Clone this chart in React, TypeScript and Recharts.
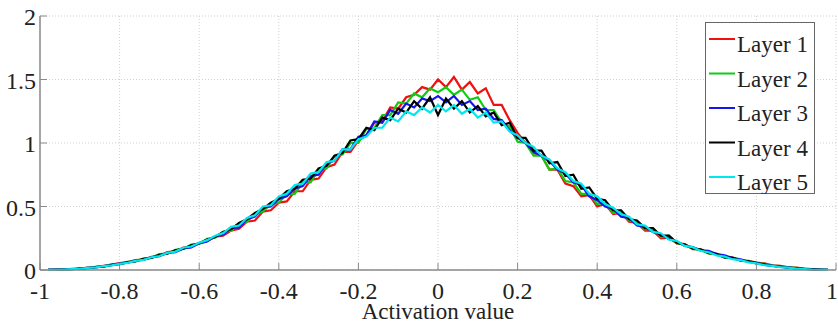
import React from 'react';
import { LineChart, Line, XAxis, YAxis, CartesianGrid, Legend } from 'recharts';

// histogram bin centres
const xs = [
  -0.98, -0.96, -0.94, -0.92, -0.9, -0.88, -0.86, -0.84, -0.82, -0.8,
  -0.78, -0.76, -0.74, -0.72, -0.7, -0.68, -0.66, -0.64, -0.62, -0.6,
  -0.58, -0.56, -0.54, -0.52, -0.5, -0.48, -0.46, -0.44, -0.42, -0.4,
  -0.38, -0.36, -0.34, -0.32, -0.3, -0.28, -0.26, -0.24, -0.22, -0.2,
  -0.18, -0.16, -0.14, -0.12, -0.1, -0.08, -0.06, -0.04, -0.02, 0,
  0.02, 0.04, 0.06, 0.08, 0.1, 0.12, 0.14, 0.16, 0.18, 0.2,
  0.22, 0.24, 0.26, 0.28, 0.3, 0.32, 0.34, 0.36, 0.38, 0.4,
  0.42, 0.44, 0.46, 0.48, 0.5, 0.52, 0.54, 0.56, 0.58, 0.6,
  0.62, 0.64, 0.66, 0.68, 0.7, 0.72, 0.74, 0.76, 0.78, 0.8,
  0.82, 0.84, 0.86, 0.88, 0.9, 0.92, 0.94, 0.96, 0.98,
];

const layer1 = [
  0.001, 0.003, 0.004, 0.009, 0.011, 0.019, 0.024, 0.033, 0.043, 0.055,
  0.062, 0.078, 0.082, 0.104, 0.112, 0.142, 0.146, 0.176, 0.182, 0.212,
  0.228, 0.262, 0.27, 0.31, 0.325, 0.38, 0.39, 0.46, 0.47, 0.53,
  0.54, 0.62, 0.62, 0.71, 0.72, 0.81, 0.83, 0.93, 0.93, 1.02,
  1.06, 1.16, 1.17, 1.28, 1.27, 1.36, 1.38, 1.44, 1.42, 1.5,
  1.44, 1.52, 1.42, 1.48, 1.39, 1.43, 1.3, 1.3, 1.18, 1.08,
  1.0, 0.92, 0.9, 0.79, 0.79, 0.68, 0.66, 0.58, 0.59, 0.5,
  0.52, 0.44, 0.45, 0.38, 0.37, 0.31, 0.31, 0.25, 0.255, 0.21,
  0.205, 0.165, 0.165, 0.13, 0.13, 0.1, 0.1, 0.075, 0.072, 0.058,
  0.052, 0.036, 0.032, 0.021, 0.018, 0.011, 0.008, 0.004, 0.002,
];

const layer2 = [
  0.001, 0.002, 0.005, 0.007, 0.013, 0.016, 0.025, 0.029, 0.044, 0.049,
  0.065, 0.07, 0.09, 0.098, 0.125, 0.13, 0.158, 0.165, 0.2, 0.205,
  0.245, 0.255, 0.3, 0.31, 0.36, 0.38, 0.44, 0.46, 0.52, 0.53,
  0.6, 0.6, 0.69, 0.69, 0.79, 0.8, 0.9, 0.91, 1.0, 1.0,
  1.11, 1.12, 1.22, 1.22, 1.32, 1.31, 1.39, 1.36, 1.43, 1.4,
  1.44, 1.38, 1.42, 1.34, 1.36, 1.26, 1.26, 1.16, 1.13, 1.01,
  1.0, 0.9, 0.9, 0.79, 0.8, 0.7, 0.69, 0.6, 0.6, 0.52,
  0.53, 0.45, 0.45, 0.39, 0.38, 0.32, 0.33, 0.26, 0.27, 0.21,
  0.2, 0.165, 0.16, 0.13, 0.125, 0.098, 0.094, 0.074, 0.07, 0.054,
  0.048, 0.035, 0.03, 0.02, 0.017, 0.01, 0.007, 0.004, 0.001,
];

const layer3 = [
  0.001, 0.003, 0.004, 0.008, 0.01, 0.017, 0.021, 0.031, 0.038, 0.05,
  0.058, 0.075, 0.08, 0.1, 0.108, 0.135, 0.14, 0.17, 0.178, 0.21,
  0.225, 0.265, 0.28, 0.33, 0.335, 0.4, 0.42, 0.49, 0.5, 0.56,
  0.58, 0.64, 0.66, 0.74, 0.75, 0.84, 0.86, 0.95, 0.95, 1.05,
  1.06, 1.17, 1.16, 1.26, 1.23, 1.31, 1.28, 1.35, 1.33, 1.37,
  1.32, 1.37, 1.3, 1.33, 1.26, 1.27, 1.19, 1.18, 1.1, 1.04,
  1.0, 0.93, 0.9, 0.86, 0.79, 0.76, 0.69, 0.67, 0.58, 0.55,
  0.5, 0.48, 0.42, 0.41, 0.35, 0.34, 0.3, 0.28, 0.245, 0.225,
  0.19, 0.18, 0.155, 0.15, 0.125, 0.115, 0.095, 0.085, 0.066, 0.058,
  0.04, 0.035, 0.024, 0.02, 0.013, 0.01, 0.006, 0.003, 0.001,
];

const layer4 = [
  0.001, 0.002, 0.004, 0.006, 0.011, 0.014, 0.022, 0.027, 0.04, 0.046,
  0.06, 0.068, 0.088, 0.096, 0.12, 0.128, 0.155, 0.168, 0.195, 0.21,
  0.24, 0.26, 0.3, 0.32, 0.37, 0.4, 0.45, 0.48, 0.53, 0.56,
  0.62, 0.64, 0.71, 0.72, 0.8, 0.82, 0.9, 0.92, 1.02, 1.03,
  1.12, 1.1, 1.2, 1.18, 1.27, 1.24, 1.33, 1.27, 1.36, 1.22,
  1.35, 1.27, 1.33, 1.24, 1.29, 1.21, 1.24, 1.14, 1.16, 1.04,
  1.04, 0.94, 0.94, 0.84, 0.85, 0.74, 0.75, 0.64, 0.65, 0.56,
  0.55, 0.47, 0.47, 0.4, 0.39, 0.33, 0.33, 0.27, 0.27, 0.215,
  0.2, 0.17, 0.16, 0.135, 0.125, 0.1, 0.095, 0.075, 0.068, 0.052,
  0.044, 0.032, 0.026, 0.018, 0.013, 0.008, 0.005, 0.002, 0.001,
];

const layer5 = [
  0.001, 0.002, 0.004, 0.007, 0.01, 0.016, 0.021, 0.03, 0.037, 0.048,
  0.056, 0.072, 0.08, 0.1, 0.11, 0.135, 0.145, 0.175, 0.185, 0.215,
  0.235, 0.27, 0.29, 0.34, 0.35, 0.41, 0.43, 0.5, 0.51, 0.58,
  0.6, 0.67, 0.68, 0.76, 0.77, 0.85, 0.86, 0.95, 0.95, 1.03,
  1.05, 1.12, 1.12, 1.2, 1.17, 1.25, 1.22, 1.28, 1.24, 1.3,
  1.25, 1.3, 1.23, 1.27, 1.2, 1.24, 1.16, 1.17, 1.09, 1.06,
  1.0, 0.97, 0.9, 0.87, 0.8, 0.77, 0.7, 0.68, 0.6, 0.58,
  0.52, 0.49, 0.44, 0.42, 0.36, 0.35, 0.3, 0.29, 0.24, 0.23,
  0.19, 0.18, 0.15, 0.14, 0.115, 0.105, 0.085, 0.078, 0.06, 0.052,
  0.038, 0.032, 0.022, 0.018, 0.011, 0.008, 0.004, 0.002, 0.001,
];

const seriesNames = ['Layer 1', 'Layer 2', 'Layer 3', 'Layer 4', 'Layer 5'];
const seriesColors = ['#f01010', '#10cc10', '#1515f0', '#000000', '#00e8ee'];
const xTicks = [-1, -0.8, -0.6, -0.4, -0.2, 0, 0.2, 0.4, 0.6, 0.8, 1];
const yTicks = [0, 0.5, 1, 1.5, 2];

const allLayers = [layer1, layer2, layer3, layer4, layer5];
const data = xs.map((x, i) => {
  const row: Record<string, number> = { x };
  allLayers.forEach((arr, k) => {
    row['l' + (k + 1)] = arr[i];
  });
  return row;
});

const FONT = 'Liberation Serif, DejaVu Serif, serif';
const AXIS = '#8a8a8a';
const TEXT = '#222';
const txt = { fontFamily: FONT, fill: TEXT };

// MATLAB-like inward ticks, labels drawn outside
const BottomTick = (props: any) => {
  const { x, y, payload } = props;
  const last = payload.value === 1;
  return (
    <g>
      <line x1={x} x2={x} y1={y} y2={y - 7} stroke={AXIS} />
      <text x={last ? x + 2 : x} y={y + 29} textAnchor={last ? 'end' : 'middle'} fontSize={24} style={txt}>
        {payload.value}
      </text>
    </g>
  );
};

const TopTick = (props: any) => {
  const { x, y } = props;
  return <line x1={x} x2={x} y1={y} y2={y + 7} stroke={AXIS} />;
};

const LeftTick = (props: any) => {
  const { x, y, payload } = props;
  return (
    <g>
      <line x1={x} x2={x + 7} y1={y} y2={y} stroke={AXIS} />
      <text x={x - 4} y={y + 9} textAnchor="end" fontSize={24} style={txt}>
        {payload.value}
      </text>
    </g>
  );
};

const RightTick = (props: any) => {
  const { x, y } = props;
  return <line x1={x} x2={x - 7} y1={y} y2={y} stroke={AXIS} />;
};

const AxisTitle = (props: any) => {
  const { viewBox } = props;
  return (
    <text x={viewBox.x + viewBox.width / 2} y={319} textAnchor="middle" fontSize={23} style={txt}>
      Activation value
    </text>
  );
};

const LegendBox = () => (
  <svg width={110} height={172}>
    <rect x={0.5} y={0.5} width={109} height={171} fill="#fff" stroke="#666" />
    {seriesNames.map((name, i) => (
      <g key={name}>
        <line x1={4} x2={30} y1={17 + i * 34.5} y2={17 + i * 34.5} stroke={seriesColors[i]} strokeWidth={2} />
        <text x={32} y={30 + i * 34.5} fontSize={23} style={txt}>
          {name}
        </text>
      </g>
    ))}
  </svg>
);

export default function App() {
  return (
    <div style={{ position: 'absolute', left: 0, top: 0, background: '#fff' }}>
      <LineChart width={838} height={325} data={data} margin={{ top: 16, right: 2, bottom: 0, left: 0 }}>
        <CartesianGrid stroke="#cfcfcf" strokeDasharray="1 2" />
        <XAxis
          dataKey="x"
          type="number"
          domain={[-1, 1]}
          ticks={xTicks}
          height={55}
          tickSize={0}
          tickMargin={0}
          tickLine={false}
          axisLine={{ stroke: AXIS, strokeWidth: 1.5 }}
          tick={<BottomTick />}
          interval={0}
          label={<AxisTitle />}
        />
        <XAxis
          xAxisId="top"
          orientation="top"
          dataKey="x"
          type="number"
          domain={[-1, 1]}
          ticks={xTicks}
          height={0}
          tickSize={0}
          tickMargin={0}
          tickLine={false}
          axisLine={{ stroke: AXIS, strokeWidth: 1.5 }}
          tick={<TopTick />}
          interval={0}
        />
        <YAxis
          type="number"
          domain={[0, 2]}
          ticks={yTicks}
          width={40}
          tickSize={0}
          tickMargin={0}
          tickLine={false}
          axisLine={{ stroke: AXIS, strokeWidth: 1.5 }}
          tick={<LeftTick />}
          interval={0}
        />
        <YAxis
          yAxisId="right"
          orientation="right"
          type="number"
          domain={[0, 2]}
          ticks={yTicks}
          width={0}
          tickSize={0}
          tickMargin={0}
          tickLine={false}
          axisLine={{ stroke: AXIS, strokeWidth: 1.5 }}
          tick={<RightTick />}
          interval={0}
        />
        {seriesNames.map((name, k) => (
          <Line
            key={name}
            name={name}
            dataKey={'l' + (k + 1)}
            type="linear"
            stroke={seriesColors[k]}
            strokeWidth={2.2}
            dot={false}
            isAnimationActive={false}
          />
        ))}
        <Legend
          layout="vertical"
          align="center"
          verticalAlign="middle"
          wrapperStyle={{ left: 705, top: 22, width: 110, height: 172 }}
          content={() => <LegendBox />}
        />
      </LineChart>
    </div>
  );
}
